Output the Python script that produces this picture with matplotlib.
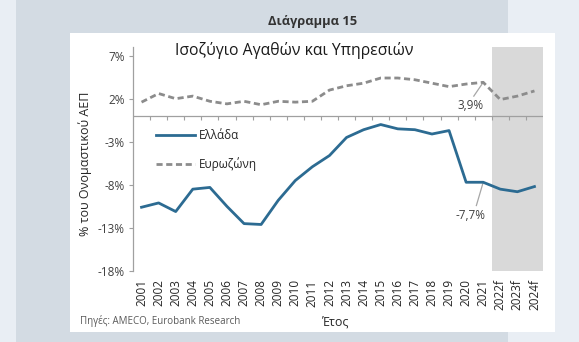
import matplotlib
matplotlib.use("Agg")
import matplotlib.pyplot as plt
from matplotlib.patches import Rectangle

plt.rcParams['font.family'] = ['Open Sans', 'DejaVu Sans']

years = ['2001', '2002', '2003', '2004', '2005', '2006', '2007', '2008', '2009', '2010',
         '2011', '2012', '2013', '2014', '2015', '2016', '2017', '2018', '2019', '2020',
         '2021', '2022f', '2023f', '2024f']
greece = [-10.6, -10.1, -11.1, -8.5, -8.3, -10.5, -12.5, -12.6, -9.8, -7.5,
          -5.9, -4.6, -2.5, -1.6, -1.0, -1.5, -1.6, -2.1, -1.7, -7.7,
          -7.7, -8.5, -8.8, -8.2]
eurozone = [1.6, 2.6, 2.0, 2.3, 1.7, 1.4, 1.7, 1.3, 1.7, 1.6,
            1.7, 3.0, 3.5, 3.8, 4.4, 4.4, 4.2, 3.8, 3.4, 3.7,
            3.9, 1.9, 2.3, 2.9]
n_forecast = 3
yticks = [7, 2, -3, -8, -13, -18]

W, H = 579, 342
fig = plt.figure(figsize=(W / 100, H / 100), dpi=100)
fig.patch.set_facecolor('#e9eef4')

# page background: darker panel and white chart card
fig.patches.append(Rectangle((16 / W, 0), (508 - 16) / W, 1, transform=fig.transFigure,
                             facecolor='#d3dbe3', edgecolor='none', zorder=-2))
fig.patches.append(Rectangle((70 / W, 1 - 332 / H), (555 - 70) / W, (332 - 33) / H,
                             transform=fig.transFigure, facecolor='white',
                             edgecolor='none', zorder=-1))

fig.text(313 / W, 1 - 21 / H, 'Διάγραμμα 15', ha='center', va='center',
         fontsize=9.3, fontweight='bold', color='#333333')

ax = fig.add_axes([133 / W, 1 - 271 / H, 410 / W, 224 / H])
ax.set_facecolor('none')
x = list(range(len(years)))

ax.axvspan(len(years) - n_forecast - 0.5, len(years) - 0.5, color='#d9d9d9', lw=0, zorder=0)
ax.axhline(0, color='#a0a0a0', lw=0.9, zorder=1)

ax.plot(x, greece, color='#2c6b92', lw=2.0, label='Ελλάδα', zorder=3)
ax.plot(x, eurozone, color='#8c8c8c', lw=2.0, ls=(0, (2.2, 1.3)), label='Ευρωζώνη', zorder=3)

ax.set_xlim(-0.5, len(years) - 0.5)
ax.set_ylim(-18, 8)
ax.set_yticks(yticks)
ax.set_yticklabels([f'{v}%' for v in yticks])
ax.set_xticks(x)
ax.set_xticklabels(years, rotation=90)
ax.tick_params(axis='x', length=0, pad=6, labelsize=8.5, colors='#262626')
ax.tick_params(axis='y', length=3, width=0.8, color='#a0a0a0', labelsize=8.5,
               labelcolor='#404040', pad=3)
for s in ['top', 'right', 'bottom']:
    ax.spines[s].set_visible(False)
ax.spines['left'].set_color('#a0a0a0')
ax.spines['left'].set_linewidth(0.9)

# small ticks between years along the zero line
zero_axis = ax.secondary_xaxis(0, transform=ax.transData)
zero_axis.set_xticks([i + 0.5 for i in x[:-1]])
zero_axis.tick_params(length=3, width=0.8, color='#a0a0a0', labelbottom=False)
zero_axis.spines['bottom'].set_visible(False)

ax.text(0.393, 0.985, 'Ισοζύγιο Αγαθών και Υπηρεσιών', transform=ax.transAxes,
        ha='center', va='center', fontsize=11.3, color='#1a1a1a')

# value call-outs for 2021
i21 = years.index('2021')
ax.plot([i21, i21 - 0.55], [eurozone[i21], eurozone[i21] - 1.6], color='#a6a6a6', lw=0.9, zorder=2)
ax.text(i21 - 0.75, eurozone[i21] - 2.7, f'{eurozone[i21]:.1f}%'.replace('.', ','),
        ha='center', va='center', fontsize=8.5, color='#404040')
ax.plot([i21, i21 - 0.4], [greece[i21], greece[i21] - 2.7], color='#a6a6a6', lw=0.9, zorder=2)
ax.text(i21 - 0.75, greece[i21] - 3.8, f'{greece[i21]:.1f}%'.replace('.', ','),
        ha='center', va='center', fontsize=8.5, color='#404040')

ax.legend(loc='upper left', bbox_to_anchor=(0.03, 0.68), frameon=False, fontsize=8.5,
          handlelength=3.3, handletextpad=0.3, labelspacing=1.3, labelcolor='#262626')

fig.text(85 / W, 1 - 164 / H, '% του Ονομαστικού ΑΕΠ', rotation=90, ha='center',
         va='center', fontsize=9, color='#262626')
fig.text(336 / W, 1 - 322 / H, 'Έτος', ha='center', va='center', fontsize=9, color='#262626')
fig.text(80 / W, 1 - 321 / H, 'Πηγές: AMECO, Eurobank Research', ha='left', va='center',
         fontsize=7, color='#595959')

fig.savefig('out.png', dpi=100, facecolor=fig.get_facecolor())
